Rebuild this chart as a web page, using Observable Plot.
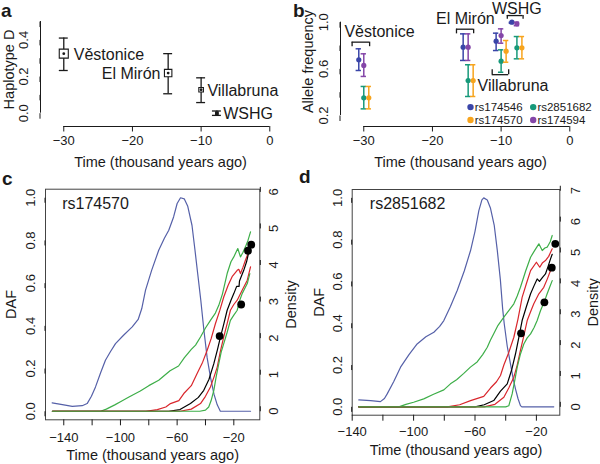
<!DOCTYPE html>
<html><head><meta charset="utf-8">
<script src="https://cdn.jsdelivr.net/npm/d3@7"></script>
<script src="https://cdn.jsdelivr.net/npm/@observablehq/plot@0.6"></script>
<style>
body{margin:0;background:#fff;}
#fig{position:relative;width:600px;height:464px;overflow:hidden;font-family:"Liberation Sans",Arial,Helvetica,sans-serif;color:#1a1a1a;}
.panel{position:absolute;}
.letter{position:absolute;font-weight:bold;font-size:19px;line-height:1;}
</style></head><body><div id="fig"></div>
<script>
// ---------- data: panel a ----------
const sites = ["Věstonice", "El Mirón", "Villabruna", "WSHG"];
const siteTime = [-30, -14.8, -10, -7.7];
const hapD = [0.325, 0.219, 0.128, 0.0];
const hapDLo = [0.233, 0.106, 0.058, -0.012];
const hapDHi = [0.41, 0.325, 0.193, 0.012];

// ---------- data: panel b (allele frequency per SNP, per site) ----------
const snps = ["rs174546", "rs2851682", "rs174570", "rs174594"];
const af_rs174546 = [0.678, 0.786, 0.837, 1.0];
const lo_rs174546 = [0.586, 0.672, 0.757, 0.99];
const hi_rs174546 = [0.772, 0.9, 0.906, 1.0];
const af_rs174594 = [0.629, 0.786, 0.886, 0.986];
const lo_rs174594 = [0.535, 0.672, 0.82, 0.97];
const hi_rs174594 = [0.729, 0.9, 0.943, 1.0];
const af_rs2851682 = [0.352, 0.5, 0.666, 0.78];
const lo_rs2851682 = [0.257, 0.363, 0.571, 0.686];
const hi_rs2851682 = [0.449, 0.635, 0.763, 0.877];
const af_rs174570 = [0.352, 0.5, 0.752, 0.78];
const lo_rs174570 = [0.257, 0.363, 0.657, 0.686];
const hi_rs174570 = [0.449, 0.635, 0.843, 0.877];

// ---------- data: panel c (rs174570), [time, value] ----------
const cDensity = [[-148.2,0.039],[-141,0.031],[-134,0.023],[-127,0.026],[-123.5,0.036],[-120.5,0.07],[-117.6,0.114],[-114,0.18],[-110.6,0.239],[-107,0.28],[-103.5,0.317],[-98,0.355],[-91.7,0.395],[-87.5,0.43],[-85,0.48],[-82.3,0.567],[-78,0.66],[-73,0.754],[-69,0.81],[-65.9,0.848],[-62.5,0.91],[-60,0.973],[-57.6,1.0],[-55,0.995],[-52.5,0.96],[-49.5,0.87],[-47.5,0.76],[-45.5,0.645],[-43.3,0.52],[-41.2,0.385],[-38.8,0.25],[-36.5,0.16],[-34,0.08],[-31.7,0.03],[-29.5,0.0],[-8.2,0.0]];
const cUpper95 = [[-148,0],[-114,0],[-110,0.01],[-104,0.03],[-100,0.045],[-94,0.067],[-86,0.095],[-80,0.12],[-73,0.145],[-65,0.19],[-59,0.212],[-55,0.25],[-50,0.29],[-47,0.31],[-43.5,0.348],[-40,0.39],[-36.5,0.426],[-33,0.46],[-30.6,0.496],[-28,0.55],[-24.7,0.645],[-22,0.70],[-20,0.723],[-17.2,0.762],[-15.3,0.723],[-13.5,0.745],[-11.8,0.77],[-10,0.80],[-8.2,0.84]];
const cUpper50 = [[-148,0],[-82,0],[-74,0.008],[-68,0.02],[-64.7,0.036],[-58.8,0.05],[-55.3,0.083],[-50,0.12],[-45.9,0.177],[-42,0.23],[-38.8,0.286],[-36,0.34],[-33,0.41],[-30,0.47],[-27.1,0.535],[-24,0.59],[-21.2,0.63],[-17.6,0.66],[-16.5,0.665],[-15.3,0.645],[-13.5,0.675],[-11.8,0.707],[-8.2,0.77]];
const cMean = [[-148,0],[-66,0],[-58,0.008],[-50.6,0.036],[-45,0.065],[-41.2,0.098],[-37.5,0.15],[-34.1,0.223],[-31.5,0.29],[-29.4,0.348],[-27,0.41],[-24.7,0.473],[-22,0.52],[-20,0.551],[-18,0.585],[-16.3,0.585],[-16,0.61],[-13,0.66],[-11,0.70],[-9.4,0.746],[-8.2,0.765]];
const cLower50 = [[-148,0],[-58,0],[-50,0.01],[-43.5,0.036],[-40,0.07],[-36.5,0.114],[-34,0.16],[-31.7,0.207],[-29.5,0.28],[-27.1,0.348],[-24.7,0.41],[-22.4,0.473],[-20,0.50],[-17.6,0.52],[-14.1,0.567],[-10.5,0.614],[-8.2,0.676]];
const cLower95 = [[-148,0],[-44,0],[-40,0.005],[-37.7,0.02],[-36,0.05],[-34.1,0.098],[-32.5,0.16],[-30.6,0.223],[-28.8,0.28],[-27.1,0.317],[-24.7,0.37],[-22.4,0.426],[-20,0.45],[-17.6,0.473],[-15.8,0.52],[-14.1,0.551],[-12.3,0.575],[-10.5,0.598],[-8.7,0.645]];
const cPeakDensity = 5.84;

// ---------- data: panel d (rs2851682), [time, value] ----------
const dDensity = [[-135.7,0.033],[-128,0.03],[-121.6,0.025],[-119,0.04],[-117.2,0.062],[-113,0.12],[-108.5,0.19],[-103,0.25],[-97.7,0.301],[-92,0.335],[-86.8,0.357],[-83,0.385],[-80.3,0.413],[-76,0.48],[-71.6,0.557],[-67,0.65],[-62.9,0.748],[-60,0.84],[-57.5,0.939],[-55.5,0.99],[-54.3,1.0],[-52,0.99],[-49.9,0.95],[-47.5,0.87],[-45.5,0.75],[-43.5,0.61],[-42,0.47],[-41,0.40],[-39,0.29],[-36.9,0.206],[-35,0.13],[-33.6,0.085],[-32,0.04],[-30.4,0.006],[-29.5,0],[-8.7,0]];
const dUpper95 = [[-135.7,0],[-109.6,0],[-105,0.012],[-100,0.022],[-93.4,0.038],[-87,0.06],[-80.3,0.081],[-76,0.11],[-72,0.13],[-67.3,0.16],[-63,0.19],[-58.6,0.215],[-55,0.25],[-52,0.285],[-49.9,0.32],[-47.8,0.35],[-45,0.39],[-41.2,0.429],[-38,0.46],[-34.7,0.493],[-32.5,0.53],[-30.4,0.572],[-27,0.65],[-23.8,0.716],[-21,0.75],[-18.4,0.78],[-16.2,0.748],[-14.5,0.76],[-13,0.764],[-11,0.79],[-9.7,0.82]];
const dUpper50 = [[-135.7,0],[-78,0],[-70,0.01],[-62.9,0.03],[-54.3,0.05],[-49.9,0.09],[-46,0.12],[-43.4,0.15],[-41.2,0.2],[-38,0.26],[-34.7,0.333],[-32,0.42],[-29.3,0.524],[-26.5,0.59],[-23.8,0.652],[-20,0.692],[-17.8,0.668],[-16,0.69],[-14.1,0.70],[-12,0.72],[-9.7,0.756]];
const dMean = [[-135.7,0],[-60,0],[-54,0.01],[-47.8,0.03],[-43.4,0.075],[-39,0.11],[-36,0.18],[-33.6,0.254],[-31.5,0.33],[-29.3,0.413],[-26.5,0.48],[-23.8,0.541],[-21.5,0.58],[-19.5,0.612],[-18,0.60],[-16,0.62],[-14.1,0.636],[-12.5,0.67],[-10.8,0.708],[-9.7,0.73]];
const dLower50 = [[-135.7,0],[-54,0],[-47,0.012],[-41.2,0.046],[-38,0.09],[-34.7,0.142],[-32.5,0.2],[-30.4,0.27],[-28.2,0.34],[-26,0.413],[-23.8,0.455],[-21.7,0.493],[-18.4,0.541],[-15.2,0.572],[-13,0.61],[-10.8,0.652],[-9.7,0.67]];
const dLower95 = [[-135.7,0],[-40,0],[-38,0.005],[-35.8,0.062],[-34,0.13],[-32.5,0.19],[-30.5,0.25],[-28.2,0.301],[-26,0.33],[-23.8,0.349],[-21.5,0.38],[-19.5,0.413],[-17.3,0.461],[-15,0.50],[-13,0.541],[-11.5,0.57],[-9.7,0.604]];
const dPeakDensity = 6.77;

// ---------- ticks / limits ----------
const xTicksAB = [-30, -20, -10, 0];
const yTicksA = [0, 0.1, 0.2, 0.3, 0.4, 0.5];
const yTicksB = [0.2, 0.4, 0.6, 0.8, 1.0];
const xTicksCD = [-140, -120, -100, -80, -60, -40, -20];
const yTicksCD = [0, 0.2, 0.4, 0.6, 0.8, 1.0];
const xlimAB = [-33.39, 1.56];
const ylimA = [-0.0726, 0.5495];
const ylimB = [0.1057, 1.0832];
const xlimC = [-152.9, -1.66];
const xlimD = [-140, -4.76];
const ylimCD = [-0.04, 1.04];

// ---------- annotation layout (panel b) ----------
const bracketFrom = [-31.7, -16.5, -9.1, -11.3];
const bracketTo = [-29.15, -14.0, -6.8, -8.9];
const bracketAt = [0.829, 0.94, 1.057, 0.55];
const bracketEnd = [0.79, 0.9, 1.025, 0.592];
const bracketLabelX = [-27.7, -15.2, -7.7, -8.27];
const bracketLabelY = [0.918, 1.029, 1.115, 0.457];
const bracketSite = ["Věstonice", "El Mirón", "WSHG", "Villabruna"];

// ---------- styles ----------
const FONT = '"Liberation Sans", Arial, Helvetica, sans-serif';
const INK = "#1a1a1a";
const snpColor = {rs174546: "#3A45A8", rs2851682: "#17997A", rs174570: "#F7A41D", rs174594: "#8446A8"};
const snpDx = {rs174546: -5, rs174594: 0, rs2851682: 0, rs174570: 5};
const squareR = [5.1, 4.2, 2.6, 1.5];
const curveBlue = "#5560A8", curveGreen = "#3DAE48", curveRed = "#D9262C";
const minus = d => d < 0 ? "\u2212" + Math.abs(d) : String(d);
const baseStyle = {fontFamily: FONT, fontSize: "13px", color: INK, background: "transparent", overflow: "visible"};

const fig = document.getElementById("fig");
function place(el, left, top) {
  const div = document.createElement("div");
  div.className = "panel"; div.style.left = left + "px"; div.style.top = top + "px";
  div.appendChild(el); fig.appendChild(div);
}
function letter(t, left, top) {
  const s = document.createElement("div");
  s.className = "letter"; s.textContent = t; s.style.left = left + "px"; s.style.top = top + "px";
  fig.appendChild(s);
}

// ---------- panel a ----------
{
  const rows = sites.map((s, i) => ({site: s, t: siteTime[i], d: hapD[i], lo: hapDLo[i], hi: hapDHi[i], r: squareR[i]}));
  const cap = 0.65;
  const p = Plot.plot({
    width: 300, height: 170, marginLeft: 40, marginRight: 20, marginTop: 12, marginBottom: 44,
    style: baseStyle,
    x: {domain: xlimAB, label: null}, y: {domain: ylimA, label: null}, r: {type: "identity"},
    marks: [
      Plot.ruleX([xlimAB[0]], {y1: yTicksA[0], y2: yTicksA[yTicksA.length - 1], stroke: INK}),
      Plot.ruleY([ylimA[0]], {x1: xTicksAB[0], x2: xTicksAB[xTicksAB.length - 1], stroke: INK}),
      Plot.axisX({ticks: xTicksAB, tickFormat: minus, tickSize: 5.5, tickPadding: 3.85, label: null, fontSize: 13}),
      Plot.axisY({ticks: yTicksA, tickFormat: d => Math.round(d * 10) % 2 === 0 ? d.toFixed(1) : "", tickSize: 5.5, tickPadding: 11.1, rotate: -90, textAnchor: "middle", lineAnchor: "middle", label: null, fontSize: 13}),
      Plot.ruleX(rows, {x: "t", y1: "lo", y2: "hi", stroke: INK, strokeWidth: 1.3}),
      Plot.ruleY(rows, {y: "lo", x1: d => d.t - cap, x2: d => d.t + cap, stroke: INK, strokeWidth: 1.3}),
      Plot.ruleY(rows, {y: "hi", x1: d => d.t - cap, x2: d => d.t + cap, stroke: INK, strokeWidth: 1.3}),
      Plot.dot(rows, {x: "t", y: "d", r: "r", symbol: "square", fill: "white", stroke: INK, strokeWidth: 1.1}),
      Plot.dot(rows, {x: "t", y: "d", r: 1.4, fill: INK}),
      Plot.text(rows.filter(d => d.site === "Věstonice"), {x: "t", y: "d", text: "site", textAnchor: "start", dx: 10, dy: 1, fontSize: 16, lineAnchor: "middle"}),
      Plot.text(rows.filter(d => d.site === "El Mirón"), {x: "t", y: "d", text: "site", textAnchor: "end", dx: -7.7, dy: 1, fontSize: 16, lineAnchor: "middle"}),
      Plot.text(rows.filter(d => d.site === "Villabruna" || d.site === "WSHG"), {x: "t", y: "d", text: "site", textAnchor: "start", dx: 6.3, dy: 1, fontSize: 16, lineAnchor: "middle"}),
      Plot.text(["Time (thousand years ago)"], {frameAnchor: "bottom", dy: 36, fontSize: 14.5, textAnchor: "middle", lineAnchor: "middle"}),
      Plot.text(["Haplotype D"], {frameAnchor: "left", rotate: -90, dx: -31.5, fontSize: 14.5, textAnchor: "middle", lineAnchor: "middle"})
    ]
  });
  place(p, 0, 0);
}

// ---------- panel b ----------
{
  const series = [
    {snp: "rs174546", f: af_rs174546, lo: lo_rs174546, hi: hi_rs174546},
    {snp: "rs174594", f: af_rs174594, lo: lo_rs174594, hi: hi_rs174594},
    {snp: "rs2851682", f: af_rs2851682, lo: lo_rs2851682, hi: hi_rs2851682},
    {snp: "rs174570", f: af_rs174570, lo: lo_rs174570, hi: hi_rs174570}
  ];
  const cap = 0.39;
  const marks = [
    Plot.ruleX([xlimAB[0]], {y1: yTicksB[0], y2: yTicksB[yTicksB.length - 1], stroke: INK}),
    Plot.ruleY([ylimB[0]], {x1: xTicksAB[0], x2: xTicksAB[xTicksAB.length - 1], stroke: INK}),
    Plot.axisX({ticks: xTicksAB, tickFormat: minus, tickSize: 5.5, tickPadding: 3.85, label: null, fontSize: 13}),
    Plot.axisY({ticks: yTicksB, tickFormat: d => Math.round(d * 10) % 4 === 2 ? d.toFixed(1) : "", tickSize: 5.5, tickPadding: 11.1, rotate: -90, textAnchor: "middle", lineAnchor: "middle", label: null, fontSize: 13})
  ];
  for (const s of series) {
    const rows = siteTime.map((t, i) => ({t, f: s.f[i], lo: s.lo[i], hi: s.hi[i]}));
    const col = snpColor[s.snp], dx = snpDx[s.snp];
    marks.push(
      Plot.ruleX(rows, {x: "t", y1: "lo", y2: "hi", stroke: col, strokeWidth: 1.5, dx}),
      Plot.ruleY(rows, {y: "lo", x1: d => d.t - cap, x2: d => d.t + cap, stroke: col, strokeWidth: 1.5, dx}),
      Plot.ruleY(rows, {y: "hi", x1: d => d.t - cap, x2: d => d.t + cap, stroke: col, strokeWidth: 1.5, dx}),
      Plot.dot(rows, {x: "t", y: "f", r: 2.6, fill: col, dx})
    );
  }
  const br = bracketSite.map((n, i) => ({n, x1: bracketFrom[i], x2: bracketTo[i], y: bracketAt[i], y2: bracketEnd[i], lx: bracketLabelX[i], ly: bracketLabelY[i]}));
  marks.push(
    Plot.ruleY(br, {y: "y", x1: "x1", x2: "x2", stroke: INK, strokeWidth: 1.3}),
    Plot.ruleX(br, {x: "x1", y1: "y", y2: "y2", stroke: INK, strokeWidth: 1.3}),
    Plot.ruleX(br, {x: "x2", y1: "y", y2: "y2", stroke: INK, strokeWidth: 1.3}),
    Plot.text(br, {x: "lx", y: "ly", text: "n", fontSize: 16, textAnchor: "middle", lineAnchor: "middle"})
  );
  // legend (2 x 2)
  const legendX = [-14.46, -5.33], legendY = [0.272, 0.161];
  const legendOrder = ["rs174546", "rs2851682", "rs174570", "rs174594"];
  const leg = legendOrder.map((snp, i) => ({snp, color: snpColor[snp], lx: legendX[i % 2], ly: legendY[Math.floor(i / 2)]}));
  marks.push(
    Plot.dot(leg, {x: "lx", y: "ly", r: 3.2, fill: "color"}),
    Plot.text(leg, {x: "lx", y: "ly", text: "snp", textAnchor: "start", dx: 4.2, fontSize: 11.5, lineAnchor: "middle"}),
    Plot.text(["Time (thousand years ago)"], {frameAnchor: "bottom", dy: 36, fontSize: 14.5, textAnchor: "middle", lineAnchor: "middle"}),
    Plot.text(["Allele frequency"], {frameAnchor: "left", rotate: -90, dx: -32.5, dy: -8, fontSize: 14.5, textAnchor: "middle", lineAnchor: "middle"})
  );
  const p = Plot.plot({
    width: 300, height: 170, marginLeft: 40, marginRight: 20, marginTop: 12, marginBottom: 44,
    style: baseStyle, color: {type: "identity"},
    x: {domain: xlimAB, label: null}, y: {domain: ylimB, label: null},
    marks
  });
  place(p, 300, 0);
}

// ---------- panels c and d ----------
function trajPanel(opt) {
  const L = (arr, stroke) => Plot.line(arr, {x: d => d[0], y: d => d[1], stroke, strokeWidth: 1.2});
  const dots = siteTime.map((t, i) => ({t, f: opt.obs[i]}));
  const densTicks = d3.range(0, Math.ceil(opt.peak) + 1).map(v => v / opt.peak);
  return Plot.plot({
    width: 300, height: 294, marginLeft: opt.ml, marginRight: 40.7, marginTop: opt.mt, marginBottom: opt.mb,
    style: baseStyle,
    x: {domain: opt.xlim, label: null}, y: {domain: ylimCD, label: null},
    marks: [
      Plot.frame({stroke: "#444"}),
      Plot.axisX({ticks: xTicksCD, tickFormat: d => (d + 140) % 40 === 0 ? minus(d) : "", tickSize: 6, tickPadding: opt.xpad, label: null, fontSize: 13}),
      Plot.axisY({ticks: yTicksCD, tickFormat: d => d.toFixed(1), tickSize: 5, tickPadding: 9.2, rotate: -90, textAnchor: "middle", lineAnchor: "middle", label: null, fontSize: 13}),
      Plot.axisY({anchor: "right", ticks: densTicks, tickFormat: d => String(Math.round(d * opt.peak)), tickSize: 5, tickPadding: opt.rpad, rotate: -90, textAnchor: "middle", lineAnchor: "middle", label: null, fontSize: 13}),
      L(opt.dens, curveBlue),
      L(opt.u95, curveGreen),
      L(opt.u50, curveRed),
      L(opt.mean, "#000"),
      L(opt.l50, curveRed),
      L(opt.l95, curveGreen),
      Plot.dot(dots, {x: "t", y: "f", r: 3.9, fill: "#000"}),
      Plot.text([opt.snp], {frameAnchor: "top-left", dx: opt.tdx, dy: 14.5, textAnchor: "start", lineAnchor: "middle", fontSize: 16}),
      Plot.text(["Time (thousand years ago)"], {frameAnchor: "bottom", dy: opt.tdy, fontSize: 14.5, textAnchor: "middle", lineAnchor: "middle"}),
      Plot.text(["DAF"], {frameAnchor: "left", rotate: -90, dx: opt.ldx, fontSize: 14.5, textAnchor: "middle", lineAnchor: "middle"}),
      Plot.text(["Density"], {frameAnchor: "right", rotate: -90, dx: opt.rdx, fontSize: 14.5, textAnchor: "middle", lineAnchor: "middle"})
    ]
  });
}
place(trajPanel({snp: "rs174570", obs: af_rs174570, peak: cPeakDensity, xlim: xlimC, ml: 45, mt: 18.7, mb: 44.7, xpad: 6.75, rpad: 9.15, tdx: 16.7, tdy: 35.7, ldx: -34.6, rdx: 31.5,
  dens: cDensity, u95: cUpper95, u50: cUpper50, mean: cMean, l50: cLower50, l95: cLower95}), 0, 170);
place(trajPanel({snp: "rs2851682", obs: af_rs2851682, peak: dPeakDensity, xlim: xlimD, ml: 51.7, mt: 19, mb: 49.3, xpad: 6.05, rpad: 10.85, tdx: 17.6, tdy: 35.3, ldx: -33, rdx: 33.2,
  dens: dDensity, u95: dUpper95, u50: dUpper50, mean: dMean, l50: dLower50, l95: dLower95}), 300, 170);

letter("a", 1, 1);
letter("b", 293, 1);
letter("c", 2, 169);
letter("d", 299, 167);
</script></body></html>
